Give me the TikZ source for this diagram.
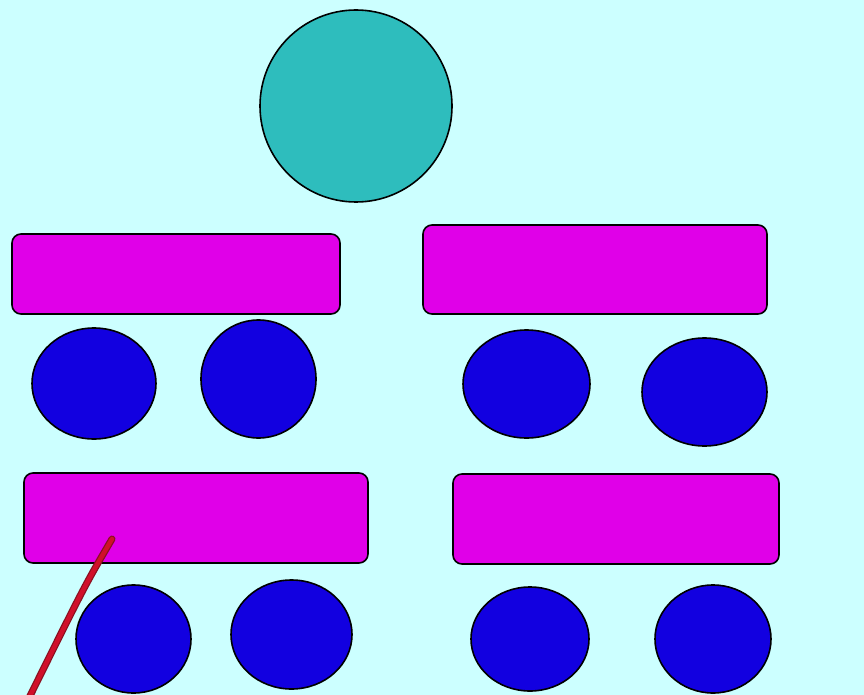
\documentclass[tikz,border=0pt]{standalone}
\usetikzlibrary{shapes.geometric}
\definecolor{bgc}{HTML}{CCFFFF}
\definecolor{tealc}{HTML}{2EBDBD}
\definecolor{magc}{HTML}{E000E8}
\definecolor{bluec}{HTML}{1200E0}
\definecolor{stickc}{HTML}{D0102A}
\definecolor{stickdark}{HTML}{8A1020}
\begin{document}
\begin{tikzpicture}[x=1pt,y=-1pt,
  box/.style={draw=black, line width=1.6pt, fill=magc, rounded corners=9pt, inner sep=0pt},
  oval/.style={ellipse, draw=black, line width=1.6pt, fill=bluec, inner sep=0pt},
  ball/.style={circle, draw=black, line width=1.6pt, fill=tealc, inner sep=0pt}]
\fill[bgc] (0,0) rectangle (864,695);
\useasboundingbox (0,0) rectangle (864,695);
\node[ball, minimum size=192pt] (top) at (356,106) {};
\node[box, minimum width=328pt, minimum height=80pt] (r1) at (176,274) {};
\node[box, minimum width=344pt, minimum height=89pt] (r2) at (595,269.5) {};
\node[box, minimum width=344pt, minimum height=90pt] (r3) at (196,518) {};
\node[box, minimum width=326pt, minimum height=90pt] (r4) at (616,519) {};
\node[oval, minimum width=124pt, minimum height=111pt] (e1) at (94,383.5) {};
\node[oval, minimum width=115pt, minimum height=118pt] (e2) at (258.5,379) {};
\node[oval, minimum width=127pt, minimum height=108pt] (e3) at (526.5,384) {};
\node[oval, minimum width=125pt, minimum height=108pt] (e4) at (704.5,392) {};
\node[oval, minimum width=115pt, minimum height=108pt] (e5) at (133.5,639) {};
\node[oval, minimum width=121pt, minimum height=109pt] (e6) at (291.5,634.5) {};
\node[oval, minimum width=118pt, minimum height=104pt] (e7) at (530,639) {};
\node[oval, minimum width=116pt, minimum height=108pt] (e8) at (713,639) {};
\coordinate (stip) at (112,539);
\coordinate (send) at (28,700);
\draw[stickdark, line width=7pt, line cap=round] (stip) .. controls (85,585) .. (send);
\draw[stickc, line width=4.5pt, line cap=round] (stip) .. controls (85,585) .. (send);
\end{tikzpicture}
\end{document}
